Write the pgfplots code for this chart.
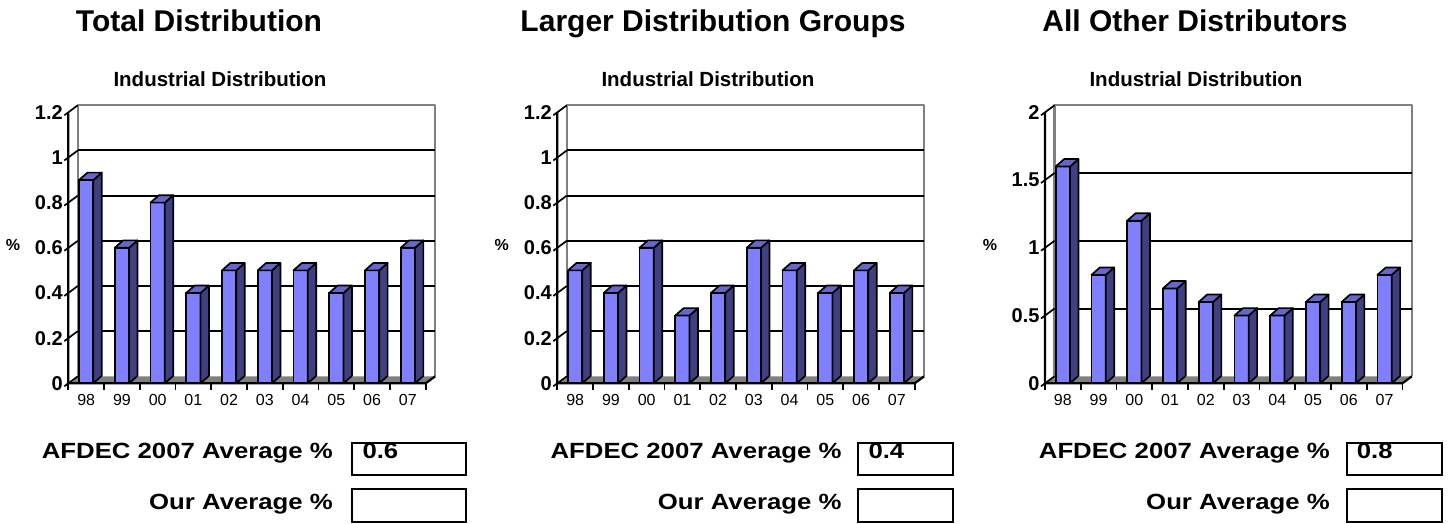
\documentclass[border=0pt]{standalone}
\usepackage{graphicx}
\usepackage{pgfplots}
\pgfplotsset{compat=1.18}
\usepackage{pgfplotstable}
\usepackage{fontspec}
\setmainfont{Liberation Sans}

\definecolor{barfront}{HTML}{8080FF}
\definecolor{barside}{HTML}{404080}
\definecolor{bartop}{HTML}{6666CC}
\definecolor{wallgray}{HTML}{808080}
\definecolor{floorgray}{HTML}{808080}

% share of sales per year (98 ... 07), one table per distribution group
\pgfplotstableread{
x v
0 0.9
1 0.6
2 0.8
3 0.4
4 0.5
5 0.5
6 0.5
7 0.4
8 0.5
9 0.6
}\totaldist
\pgfplotstableread{
x v
0 0.5
1 0.4
2 0.6
3 0.3
4 0.4
5 0.6
6 0.5
7 0.4
8 0.5
9 0.4
}\largerdist
\pgfplotstableread{
x v
0 1.6
1 0.8
2 1.2
3 0.7
4 0.6
5 0.5
6 0.5
7 0.6
8 0.6
9 0.8
}\otherdist

% depth of the back wall and of the bars
\def\wdx{9.5}\def\wdy{7}
\def\bdx{8.4}\def\bdy{7.4}
\def\bhw{7.15}

\pgfdeclareplotmark{nothing}{}

\pgfplotsset{
  panel/.style={
    scale only axis, width=357.4pt, height=271pt,
    anchor=south west,
    xmin=-0.5, xmax=9.5, ymin=0,
    clip=false,
    axis line style={draw=none},
    major tick length=0pt,
    xtick={0,...,9},
    xticklabels={98,99,00,01,02,03,04,05,06,07},
    xticklabel style={font=\fontsize{16}{16}\selectfont, yshift=-8pt},
    yticklabel style={font=\bfseries\fontsize{20}{20}\selectfont, xshift=-2pt},
    /pgf/number format/assume math mode=true,
  },
  % side and top faces of each column, drawn at the column's top
  faces3d/.style={
    only marks, scatter, mark=nothing,
    visualization depends on={rawy \as \barval},
    scatter/@pre marker code/.code={%
      \pgfmathsetmacro\barh{\barval*\yunit}%
      \filldraw[fill=barside, draw=black, line width=1.7pt, line join=round]
        (\bhw pt,0pt) -- ++(\bdx pt,\bdy pt) -- ++(0pt,-\barh pt) -- (\bhw pt,-\barh pt) -- cycle;
      \filldraw[fill=bartop, draw=black, line width=1.7pt, line join=round]
        (-\bhw pt,0pt) -- (\bhw pt,0pt) -- ++(\bdx pt,\bdy pt) -- ++(-14.3pt,0pt) -- cycle;
    },
    scatter/@post marker code/.code={},
  },
  front/.style={ybar, bar width=14.3pt, bar shift=0pt, fill=barfront, draw=black, line width=1.7pt},
}

% #1 left edge of the front axis, #2 table, #3 ymax, #4 ticks, #5 pt per unit, #6 inner gridlines
\newcommand\drawpanel[6]{%
  \def\yunit{#5}%
  \begin{axis}[panel, at={(#1pt,140.7pt)}, ymax=#3, ytick={#4}]
    % floor and back wall
    \fill[floorgray] (axis cs:-0.5,0) -- (axis cs:9.5,0) -- ++(\wdx pt,\wdy pt) -- ++(-357.4pt,0pt) -- cycle;
    \draw[wallgray, line width=2.2pt, line join=round] (axis cs:-0.5,0) ++(\wdx pt,\wdy pt)
      -- ++(0pt,271pt) -- ++(357.4pt,0pt) -- ++(0pt,-271pt);
    \pgfplotsinvokeforeach{#6}{
      \draw[black, line width=2pt] (axis cs:-0.5,##1) ++(\wdx pt,\wdy pt) -- ++(357.4pt,0pt);
    }
    % front axes
    \draw[black, line width=2.2pt, line join=round] (axis cs:-0.5,#3) -- (axis cs:-0.5,0)
      -- (axis cs:9.5,0) -- ++(\wdx pt,\wdy pt);
    \pgfplotsinvokeforeach{#4}{
      \draw[black, line width=1.7pt] (axis cs:-0.5,##1) ++(-4pt,-3pt) -- ++(13.5pt,10pt);
    }
    \pgfplotsinvokeforeach{-0.5,0.5,1.5,2.5,3.5,4.5,5.5,6.5,7.5,8.5,9.5}{
      \draw[black, line width=1.7pt] (axis cs:##1,0) -- ++(0pt,-7pt);
    }
    % columns
    \addplot[front] table[x=x, y=v] {#2};
    \addplot[faces3d] table[x=x, y=v] {#2};
  \end{axis}%
}

\newcommand\titlefont{\bfseries\fontsize{30}{30}\selectfont}
\newcommand\subfont{\bfseries\fontsize{20.5}{20.5}\selectfont}
\newcommand\avgfont{\bfseries\fontsize{22}{22}\selectfont}
\newcommand\avgtext[1]{\scalebox{1.17}[1]{\avgfont #1}}

\begin{document}
\begin{tikzpicture}[x=1pt, y=1pt]
  \useasboundingbox (0,0) rectangle (1449,524);

  \drawpanel{68.3}{\totaldist}{1.2}{0,0.2,0.4,0.6,0.8,1,1.2}{225.83}{0.2,0.4,0.6,0.8,1}
  \drawpanel{557.3}{\largerdist}{1.2}{0,0.2,0.4,0.6,0.8,1,1.2}{225.83}{0.2,0.4,0.6,0.8,1}
  \drawpanel{1045}{\otherdist}{2}{0,0.5,1,1.5,2}{135.5}{0.5,1,1.5}

  % headings
  \node[anchor=base] at (199,492.3) {\titlefont Total Distribution};
  \node[anchor=base] at (713,492.3) {\titlefont Larger Distribution Groups};
  \node[anchor=base] at (1195,492.3) {\titlefont All Other Distributors};

  \node[anchor=base] at (220,437) {\subfont Industrial Distribution};
  \node[anchor=base] at (708,437) {\subfont Industrial Distribution};
  \node[anchor=base] at (1196,437) {\subfont Industrial Distribution};

  \node at (13,279) {\bfseries\fontsize{16}{16}\selectfont\%};
  \node at (501.7,279) {\bfseries\fontsize{16}{16}\selectfont\%};
  \node at (990,279) {\bfseries\fontsize{16}{16}\selectfont\%};

  % average boxes
  \foreach \tx/\bl/\br/\val in {333/352.3/465.7/0.6, 841.7/858.3/953.3/0.4, 1330/1346.7/1442.3/0.8}{
    \node[anchor=base east, inner sep=0pt] at (\tx,65.7) {\avgtext{AFDEC 2007 Average \%}};
    \node[anchor=base east, inner sep=0pt] at (\tx,14) {\avgtext{Our Average \%}};
    \draw[black, line width=2pt] (\bl,49) rectangle (\br,81.3);
    \draw[black, line width=2pt] (\bl,2.3) rectangle (\br,34.7);
    \node[anchor=base west, inner sep=0pt] at (\bl+10,65.7) {\avgtext{\val}};
  }
\end{tikzpicture}
\end{document}
